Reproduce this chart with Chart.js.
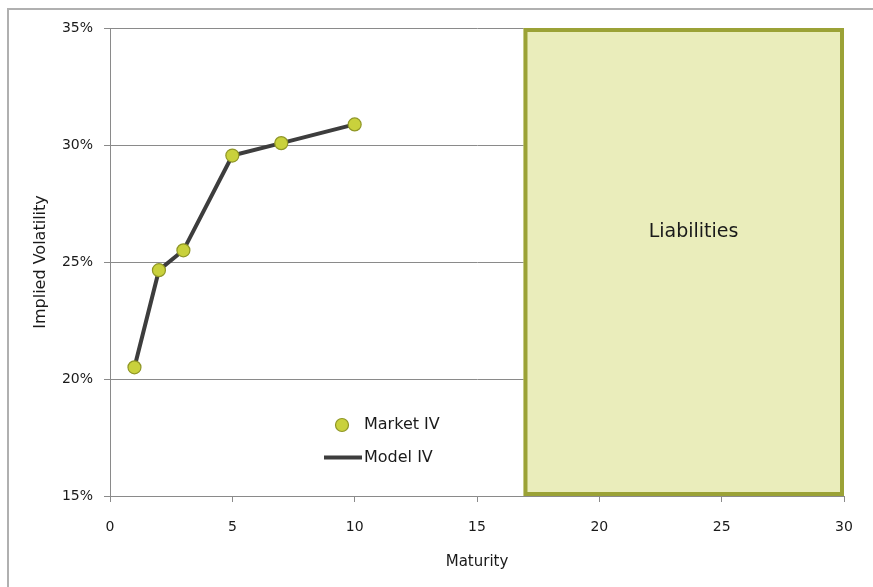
<!DOCTYPE html>
<html>
<head>
<meta charset="utf-8">
<script src="https://cdn.jsdelivr.net/npm/chart.js@4.4.1/dist/chart.umd.min.js"></script>
<style>
  html, body { margin: 0; padding: 0; background: #ffffff; }
  canvas { display: block; }
</style>
</head>
<body>
<canvas id="chart" width="873" height="587"></canvas>
<script>
// Maturities (years) and implied volatilities (%)
const maturities = [1, 2, 3, 5, 7, 10];
const marketIV = [20.5, 24.65, 25.5, 29.55, 30.08, 30.88];
const modelIV = [20.5, 24.65, 25.5, 29.55, 30.08, 30.88];

// Liabilities horizon shown as a shaded band
const liabilityStart = 16.9;
const liabilityEnd = 30;
const liabilityLabel = 'Liabilities';
const liabilityLabelPos = { x: 23.85, y: 26.3 };

// Axis ranges and ticks
const xTicks = [0, 5, 10, 15, 20, 25, 30];
const yTicks = [15, 20, 25, 30, 35];

const FONT = 'DejaVu Sans';
const TEXT = '#1a1a1a';
const GRID = '#8a8a8a';

const toXY = (xs, ys) => xs.map((x, i) => ({ x: x, y: ys[i] }));

// Background and outer frame
const framePlugin = {
  id: 'frame',
  beforeDraw(chart) {
    const ctx = chart.ctx;
    ctx.save();
    ctx.fillStyle = '#ffffff';
    ctx.fillRect(0, 0, chart.width, chart.height);
    ctx.strokeStyle = '#b0b0b0';
    ctx.lineWidth = 2;
    ctx.strokeRect(8, 9, chart.width + 20, chart.height + 20);
    ctx.restore();
  }
};

// Liabilities band drawn through the scales
const liabilitiesPlugin = {
  id: 'liabilities',
  beforeDatasetsDraw(chart) {
    const { ctx, scales } = chart;
    const x = scales.x, y = scales.y;
    const l = x.getPixelForValue(liabilityStart);
    const r = x.getPixelForValue(liabilityEnd);
    const t = y.getPixelForValue(y.max);
    const b = y.getPixelForValue(y.min);
    ctx.save();
    ctx.fillStyle = '#eaedbb';
    ctx.fillRect(l, t, r - l, b - t);
    ctx.strokeStyle = '#9ba236';
    ctx.lineWidth = 4;
    ctx.strokeRect(l + 2, t + 2, r - l - 4, b - t - 4);
    ctx.fillStyle = TEXT;
    ctx.font = '19px "' + FONT + '"';
    ctx.textAlign = 'center';
    ctx.textBaseline = 'middle';
    ctx.fillText(liabilityLabel, x.getPixelForValue(liabilityLabelPos.x), y.getPixelForValue(liabilityLabelPos.y));
    ctx.restore();
  }
};

// Legend placed inside the plot area
const innerLegendPlugin = {
  id: 'innerLegend',
  afterDatasetsDraw(chart) {
    const ctx = chart.ctx;
    const market = chart.data.datasets[0];
    const model = chart.data.datasets[1];
    ctx.save();
    // marker entry
    ctx.beginPath();
    ctx.arc(342, 425, market.pointRadius, 0, Math.PI * 2);
    ctx.fillStyle = market.pointBackgroundColor;
    ctx.fill();
    ctx.lineWidth = market.pointBorderWidth;
    ctx.strokeStyle = market.pointBorderColor;
    ctx.stroke();
    // line entry
    ctx.beginPath();
    ctx.moveTo(324, 457.5);
    ctx.lineTo(362, 457.5);
    ctx.lineWidth = model.borderWidth;
    ctx.strokeStyle = model.borderColor;
    ctx.stroke();
    ctx.fillStyle = TEXT;
    ctx.font = '16px "' + FONT + '"';
    ctx.textAlign = 'left';
    ctx.textBaseline = 'middle';
    ctx.fillText(market.label, 364, 425);
    ctx.fillText(model.label, 364, 458);
    ctx.restore();
  }
};

new Chart(document.getElementById('chart'), {
  type: 'line',
  data: {
    datasets: [
      {
        label: 'Market IV',
        data: toXY(maturities, marketIV),
        showLine: false,
        pointRadius: 6.5,
        pointHoverRadius: 6.5,
        pointBackgroundColor: '#c9d13c',
        pointBorderColor: '#8f9626',
        pointBorderWidth: 1.2,
        order: 0
      },
      {
        label: 'Model IV',
        data: toXY(maturities, modelIV),
        borderColor: '#3d3d3d',
        borderWidth: 4,
        pointRadius: 0,
        tension: 0,
        fill: false,
        order: 1
      }
    ]
  },
  options: {
    responsive: false,
    animation: false,
    events: [],
    layout: { padding: { left: 20, top: 28, right: 29, bottom: 10 } },
    plugins: {
      legend: { display: false },
      tooltip: { enabled: false }
    },
    scales: {
      x: {
        type: 'linear',
        min: 0,
        max: 30,
        afterBuildTicks(scale) { scale.ticks = xTicks.map(v => ({ value: v })); },
        afterFit(scale) { scale.height = 81; },
        grid: { drawOnChartArea: false, drawTicks: true, tickLength: 6, color: GRID },
        border: { color: GRID, width: 1 },
        ticks: { color: TEXT, font: { family: FONT, size: 14 }, padding: 17, maxRotation: 0 },
        title: { display: true, text: 'Maturity', color: TEXT, font: { family: FONT, size: 15 }, padding: { top: 0, bottom: 6 } }
      },
      y: {
        type: 'linear',
        min: 15,
        max: 35,
        afterBuildTicks(scale) { scale.ticks = yTicks.map(v => ({ value: v })); },
        afterFit(scale) { scale.width = 90; },
        grid: { drawOnChartArea: true, drawTicks: true, tickLength: 6, color: GRID },
        border: { color: GRID, width: 1 },
        ticks: { color: TEXT, font: { family: FONT, size: 14 }, padding: 11, callback: v => v + '%' },
        title: { display: true, text: 'Implied Volatility', color: TEXT, font: { family: FONT, size: 16 }, padding: { top: 11, bottom: 0 } }
      }
    }
  },
  plugins: [framePlugin, liabilitiesPlugin, innerLegendPlugin]
});
</script>
</body>
</html>
